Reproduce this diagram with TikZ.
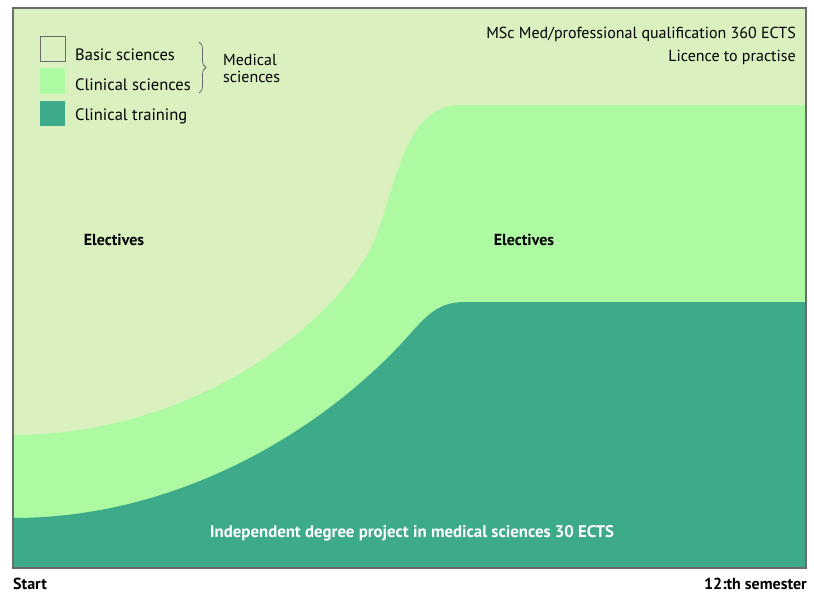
\documentclass[tikz,border=0pt]{standalone}
\usepackage{fontspec}
\setmainfont{PT Sans}
\usetikzlibrary{positioning,decorations.pathreplacing}
\definecolor{basiccol}{HTML}{DAF0BF}
\definecolor{clinicalcol}{HTML}{AEFAA3}
\definecolor{trainingcol}{HTML}{3DAA8A}
\definecolor{framecol}{HTML}{6B6B6B}
\begin{document}
\begin{tikzpicture}[x=1pt,y=-1pt,
  legbox/.style={minimum size=25pt, inner sep=0pt, outer sep=0pt},
  legtext/.style={font=\fontsize{16}{17}\selectfont, inner sep=0pt},
  boldtext/.style={font=\fontsize{16}{17}\selectfont\bfseries, inner sep=0pt}]
\useasboundingbox (0,0) rectangle (814,594);
\def\framerect{(13,8) rectangle (806,568)}
\def\clinicalarea{(13,435) .. controls (180,435) and (320,340) .. (370,250)
  .. controls (395,200) and (400,105) .. (460,105) -- (806,105) -- (806,568) -- (13,568) -- cycle}
\def\trainingarea{(13,518) .. controls (180,518) and (320,430) .. (400,345)
  .. controls (425,318) and (435,302) .. (465,302) -- (806,302) -- (806,568) -- (13,568) -- cycle}
\fill[basiccol] \framerect;
\fill[clinicalcol] \clinicalarea;
\fill[trainingcol] \trainingarea;
\draw[framecol, line width=2pt] \framerect;
% legend
\node[legbox, draw=framecol, fill=basiccol, line width=1pt] (basicbox) at (52.5,49) {};
\node[legbox, fill=clinicalcol, below=7pt of basicbox] (clinicalbox) {};
\node[legbox, fill=trainingcol, below=7pt of clinicalbox] (trainingbox) {};
\node[legtext, font=\fontsize{16.5}{17}\selectfont, anchor=base west] (basic) at (75,61) {Basic sciences};
\node[legtext, font=\fontsize{16.5}{17}\selectfont, anchor=base west] (clinical) at (75,91) {Clinical sciences};
\node[legtext, font=\fontsize{16.5}{17}\selectfont, anchor=base west] (training) at (75,121) {Clinical training};
\coordinate (bracetop) at (199,42);
\coordinate (bracebot) at (199,93);
\draw[framecol, line width=0.8pt, decorate, decoration={brace, amplitude=7pt}] (bracetop) -- (bracebot);
\node[legtext, align=left, anchor=base west] (medical) at (223,82) {Medical\\sciences};
% qualification
\node[legtext, anchor=base east] (degree) at (796,39) {MSc Med/professional qualification 360 ECTS};
\node[legtext, anchor=base east] (licence) at (796,62) {Licence to practise};
% areas
\node[boldtext, anchor=base] (electivesA) at (114,245) {Electives};
\node[boldtext, anchor=base] (electivesB) at (524,245) {Electives};
\node[boldtext, font=\fontsize{16.8}{17}\selectfont\bfseries, anchor=base, text=white] (project) at (412,537) {Independent degree project in medical sciences 30 ECTS};
% time axis
\node[boldtext, anchor=base west] (start) at (13,589) {Start};
\node[boldtext, anchor=base east] (finish) at (807,589) {12:th semester};
\end{tikzpicture}
\end{document}
